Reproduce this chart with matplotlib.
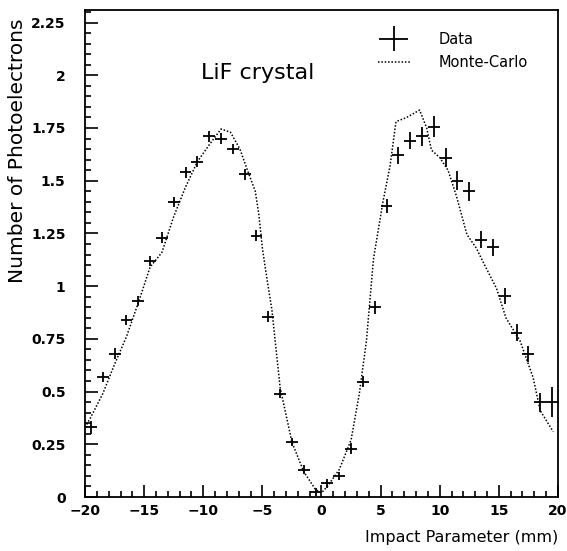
import numpy as np
import matplotlib.pyplot as plt
from matplotlib.ticker import MultipleLocator, FixedLocator
from matplotlib.legend_handler import HandlerErrorbar

# Data points (impact parameter in mm, photoelectrons)
data_x = [-19.5, -18.5, -17.5, -16.5, -15.5, -14.5, -13.5, -12.5, -11.5, -10.5,
          -9.5, -8.5, -7.5, -6.5, -5.5, -4.5, -3.5, -2.5, -1.5, -0.5,
          0.5, 1.5, 2.5, 3.5, 4.5, 5.5, 6.5, 7.5, 8.5, 9.5,
          10.5, 11.5, 12.5, 13.5, 14.5, 15.5, 16.5, 17.5, 18.5, 19.5]
data_y = [0.33, 0.57, 0.68, 0.84, 0.93, 1.12, 1.23, 1.40, 1.54, 1.59,
          1.71, 1.70, 1.65, 1.53, 1.24, 0.855, 0.49, 0.26, 0.13, 0.025,
          0.065, 0.10, 0.23, 0.547, 0.90, 1.38, 1.62, 1.69, 1.71, 1.755,
          1.61, 1.50, 1.45, 1.22, 1.185, 0.953, 0.78, 0.678, 0.45, 0.45]
data_yerr = [0.03, 0.025, 0.025, 0.025, 0.025, 0.025, 0.025, 0.025, 0.025, 0.025,
             0.025, 0.025, 0.025, 0.025, 0.025, 0.025, 0.02, 0.02, 0.02, 0.02,
             0.02, 0.02, 0.025, 0.025, 0.03, 0.035, 0.04, 0.04, 0.045, 0.05,
             0.045, 0.045, 0.045, 0.04, 0.04, 0.04, 0.04, 0.04, 0.045, 0.07]

# Monte-Carlo curve
mc_x = [-20.0, -19.5, -18.5, -17.5, -16.5, -15.5, -14.5, -13.5, -12.5, -11.5,
        -10.5, -9.5, -8.5, -7.7, -6.9, -6.2, -5.6, -5.3, -5.0, -4.6,
        -4.2, -3.5, -2.5, -1.5, -0.5, 0.0, 0.5, 1.5, 2.5, 3.2,
        3.8, 4.4, 5.2, 5.8, 6.3, 7.2, 8.3, 8.9, 9.3, 10.0,
        10.7, 11.4, 12.3, 13.1, 13.8, 14.8, 15.6, 16.8, 17.9, 18.5,
        19.6]
mc_y = [0.33, 0.38, 0.49, 0.63, 0.76, 0.92, 1.09, 1.16, 1.33, 1.47,
        1.59, 1.67, 1.745, 1.73, 1.65, 1.54, 1.45, 1.34, 1.18, 1.03,
        0.89, 0.52, 0.26, 0.12, 0.035, 0.02, 0.05, 0.13, 0.27, 0.49,
        0.74, 1.13, 1.40, 1.57, 1.78, 1.80, 1.835, 1.75, 1.645, 1.61,
        1.55, 1.43, 1.245, 1.18, 1.10, 0.99, 0.85, 0.74, 0.567, 0.41,
        0.31]

y_ticks = [0, 0.25, 0.5, 0.75, 1, 1.25, 1.5, 1.75, 2, 2.25]
y_tick_labels = ['0', '0.25', '0.5', '0.75', '1', '1.25', '1.5', '1.75', '2', '2.25']

fig = plt.figure(figsize=(5.67, 5.51), dpi=100)
ax = fig.add_axes([0.150, 0.098, 0.834, 0.884])

ax.plot(mc_x, mc_y, color='black', linestyle=(0, (1, 1.2)), linewidth=1.1,
        label='Monte-Carlo')
ax.errorbar(data_x, data_y, xerr=0.5, yerr=data_yerr, fmt='none',
            ecolor='black', elinewidth=1.3, capsize=0, label='Data')

ax.set_xlim(-20, 20)
ax.set_ylim(0, 2.31)
ax.xaxis.set_major_locator(MultipleLocator(5))
ax.xaxis.set_minor_locator(MultipleLocator(1))
ax.yaxis.set_major_locator(FixedLocator(y_ticks))
ax.set_yticklabels(y_tick_labels)
ax.yaxis.set_minor_locator(MultipleLocator(0.05))
ax.tick_params(which='both', direction='in', top=False, right=False,
               labelsize=10, width=1.2)
ax.tick_params(which='major', length=9)
ax.tick_params(axis='y', which='major', pad=14)
ax.tick_params(axis='x', which='major', pad=5)
ax.tick_params(which='minor', length=4.5)
for lab in ax.get_xticklabels() + ax.get_yticklabels():
    lab.set_fontweight('bold')
for sp in ax.spines.values():
    sp.set_linewidth(1.3)

ax.set_ylabel('Number of Photoelectrons', fontsize=14.5, va='center')
ax.yaxis.set_label_coords(-0.143, 0.71)
fig.text(0.985, 0.01, 'Impact Parameter (mm)', ha='right', va='bottom',
         fontsize=11.5)

ax.text(-5.4, 2.01, 'LiF crystal', ha='center', va='center', fontsize=16)

h, l = ax.get_legend_handles_labels()
ax.legend(h[::-1], l[::-1], loc='upper left', bbox_to_anchor=(0.619, 0.955),
          frameon=False, fontsize=10.5, handlelength=2.2, handletextpad=2.0,
          borderpad=0, borderaxespad=0, labelspacing=0.55,
          handler_map={type(h[1]): HandlerErrorbar(xerr_size=1.0, yerr_size=0.85)})

fig.savefig('out.png', dpi=100)
